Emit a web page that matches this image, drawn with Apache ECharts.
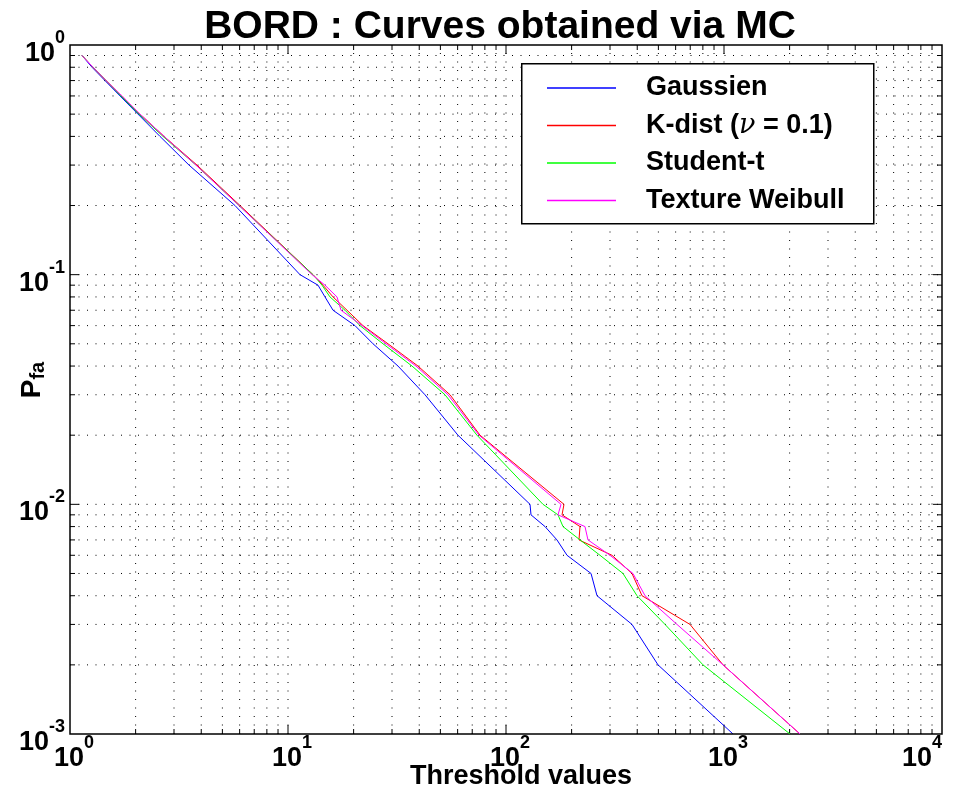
<!DOCTYPE html>
<html><head><meta charset="utf-8">
<script src="https://cdn.jsdelivr.net/npm/echarts@6/dist/echarts.min.js"></script>
<style>html,body{margin:0;padding:0;background:#fff}#c{width:968px;height:792px}</style>
</head><body><div id="c"></div>
<script>
// Pfa levels (y values) shared by all curves
const pfaLevels = [0.9,0.8,0.7,0.6,0.5,0.4,0.3,0.2,0.1,
  0.09,0.08,0.07,0.06,0.05,0.04,0.03,0.02,0.01,
  0.009,0.008,0.007,0.006,0.005,0.004,0.003,0.002,0.001];
// Threshold values (x) for each curve at each Pfa level
const gaussien = [1.135,1.262,1.447,1.696,2.051,2.587,3.515,5.713,11.35,
  13.73,14.78,16.09,20.29,24.55,31.96,42.5,60.2,128.9,
  130.2,151.0,171.3,190.5,245.5,261.5,378.4,498.1,1100];
const kdist = [1.135,1.275,1.463,1.732,2.095,2.700,3.824,6.025,13.02,
  14.47,16.09,18.65,22.08,28.76,39.48,55.36,76.0,184.5,
  180.7,218.5,216.2,306.3,378.4,420.7,698.2,989.5,2232];
const studentT = [1.135,1.275,1.463,1.714,2.073,2.671,3.784,5.962,13.02,
  14.32,15.58,18.26,21.39,27.28,37.06,52.5,73.6,147.8,
  173.2,182.6,218.5,269.9,344.1,399.0,536.3,801.1,2008];
const weibull = [1.135,1.275,1.463,1.732,2.095,2.700,3.784,5.962,12.89,
  14.78,16.78,17.51,21.85,28.15,38.65,54.2,75.2,178.8,
  173.2,230.3,237.7,300.0,382.4,434.2,608.6,989.5,2232];

const seriesNames = ['Gaussien','K-dist (ν = 0.1)','Student-t','Texture Weibull'];
const seriesColors = ['#0000ff','#ff0000','#00ff00','#ff00ff'];
const seriesX = [gaussien, kdist, studentT, weibull];

// axis ranges and grid/tick values
const X_MIN = 1, X_MAX = 10000, Y_MIN = 0.001, Y_MAX = 1;
const xMajorTicks = [10,100,1000];
const xMinorTicks = [2,3,4,5,6,7,8,9,20,30,40,50,60,70,80,90,
  200,300,400,500,600,700,800,900,2000,3000,4000,5000,6000,7000,8000,9000];
const yMajorTicks = [0.01,0.1];
const yMinorTicks = [0.002,0.003,0.004,0.005,0.006,0.007,0.008,0.009,
  0.02,0.03,0.04,0.05,0.06,0.07,0.08,0.09,0.2,0.3,0.4,0.5,0.6,0.7,0.8,0.9];

const FONT = 'Liberation Sans';
const chart = echarts.init(document.getElementById('c'), null, {renderer:'canvas'});

const expFmt = v => '{b|10}{s|' + Math.round(Math.log10(v)) + '}';
const labelRich = {
  b: {fontSize: 27, fontWeight: 'bold', fontFamily: FONT, color: '#000', lineHeight: 38, verticalAlign: 'bottom'},
  s: {fontSize: 18, fontWeight: 'bold', fontFamily: FONT, color: '#000', lineHeight: 16, verticalAlign: 'top'}
};

const DOT = [1, 7.5];
function vGrid(params, api) {
  const v = api.value(0), major = api.value(2);
  const b = api.coord([v, Y_MIN]), t = api.coord([v, Y_MAX]);
  const len = major ? 9 : 5;
  return {type: 'group', children: [
    {type: 'line', shape: {x1: b[0], y1: b[1], x2: t[0], y2: t[1]}, style: {stroke: '#000', lineWidth: 1, lineDash: DOT}},
    {type: 'line', shape: {x1: b[0], y1: b[1], x2: b[0], y2: b[1] - len}, style: {stroke: '#000', lineWidth: 1}},
    {type: 'line', shape: {x1: t[0], y1: t[1], x2: t[0], y2: t[1] + len}, style: {stroke: '#000', lineWidth: 1}}
  ]};
}
function hGrid(params, api) {
  const v = api.value(1), major = api.value(2);
  const l = api.coord([X_MIN, v]), r = api.coord([X_MAX, v]);
  const len = major ? 9 : 5;
  return {type: 'group', children: [
    {type: 'line', shape: {x1: l[0], y1: l[1], x2: r[0], y2: r[1]}, style: {stroke: '#000', lineWidth: 1, lineDash: DOT}},
    {type: 'line', shape: {x1: l[0], y1: l[1], x2: l[0] + len, y2: l[1]}, style: {stroke: '#000', lineWidth: 1}},
    {type: 'line', shape: {x1: r[0], y1: r[1], x2: r[0] - len, y2: r[1]}, style: {stroke: '#000', lineWidth: 1}}
  ]};
}

const series = [
  {type: 'custom', name: 'xgrid', silent: true, z: 1, renderItem: vGrid, encode: {x: 0, y: 1},
   data: xMinorTicks.map(v => [v, Y_MIN, 0]).concat(xMajorTicks.map(v => [v, Y_MIN, 1]))},
  {type: 'custom', name: 'ygrid', silent: true, z: 1, renderItem: hGrid, encode: {x: 0, y: 1},
   data: yMinorTicks.map(v => [X_MIN, v, 0]).concat(yMajorTicks.map(v => [X_MIN, v, 1]))}
];
seriesNames.forEach((n, i) => {
  series.push({
    type: 'line', name: n, symbol: 'none', z: 3 + i,
    color: seriesColors[i],
    lineStyle: {color: seriesColors[i], width: 1},
    itemStyle: {color: seriesColors[i]},
    data: seriesX[i].map((x, k) => [x, pfaLevels[k]])
  });
});

chart.setOption({
  animation: false,
  backgroundColor: '#fff',
  grid: {left: 70, top: 45, right: 26, bottom: 58, show: true, borderColor: '#000', borderWidth: 1.5, backgroundColor: 'transparent', z: 5},
  xAxis: {type: 'log', logBase: 10, min: X_MIN, max: X_MAX,
    axisLine: {show: false}, axisTick: {show: false}, splitLine: {show: false},
    axisLabel: {formatter: expFmt, rich: labelRich, margin: 0, padding: [0, 0, 0, 8], alignMaxLabel: 'right'}},
  yAxis: {type: 'log', logBase: 10, min: Y_MIN, max: Y_MAX,
    axisLine: {show: false}, axisTick: {show: false}, splitLine: {show: false},
    axisLabel: {formatter: expFmt, rich: labelRich, margin: 5, padding: [6, 0, 0, 0]}},
  legend: {
    data: seriesNames.map((n, i) => ({name: n, itemStyle: {color: seriesColors[i]}})),
    orient: 'vertical', left: 547, top: 73, padding: 0,
    icon: 'rect', itemWidth: 69, itemHeight: 1.5, itemGap: 7.5, selectedMode: false, z: 20,
    textStyle: {fontSize: 27, fontWeight: 'bold', fontFamily: FONT, color: '#000', lineHeight: 30, padding: [0, 0, 0, 25],
      rich: {g: {fontSize: 27, fontFamily: 'DejaVu Serif', fontStyle: 'italic', fontWeight: 'normal', color: '#000', lineHeight: 30}}},
    formatter: n => n.replace('ν', '{g|ν}')
  },
  graphic: [
    {type: 'rect', left: 521, top: 63, z: 15, shape: {width: 352, height: 160},
     style: {fill: '#fff', stroke: '#000', lineWidth: 1.5}},
    {type: 'text', x: 500, y: 27, z: 20,
     style: {text: 'BORD : Curves obtained via MC', font: 'bold 39px "Liberation Sans"', fill: '#000', textAlign: 'center', textVerticalAlign: 'middle'}},
    {type: 'text', x: 521, y: 777, z: 20,
     style: {text: 'Threshold values', font: 'bold 27px "Liberation Sans"', fill: '#000', textAlign: 'center', textVerticalAlign: 'middle'}},
    {type: 'text', x: 33, y: 380, rotation: Math.PI / 2, z: 20,
     style: {text: '{p|P}{f|fa}', textAlign: 'center', textVerticalAlign: 'middle',
       rich: {p: {fontSize: 28, fontWeight: 'bold', fontFamily: FONT, fill: '#000', lineHeight: 30, verticalAlign: 'top'},
              f: {fontSize: 20, fontWeight: 'bold', fontFamily: FONT, fill: '#000', lineHeight: 20, verticalAlign: 'bottom'}}}}
  ],
  series: series
});
</script></body></html>
